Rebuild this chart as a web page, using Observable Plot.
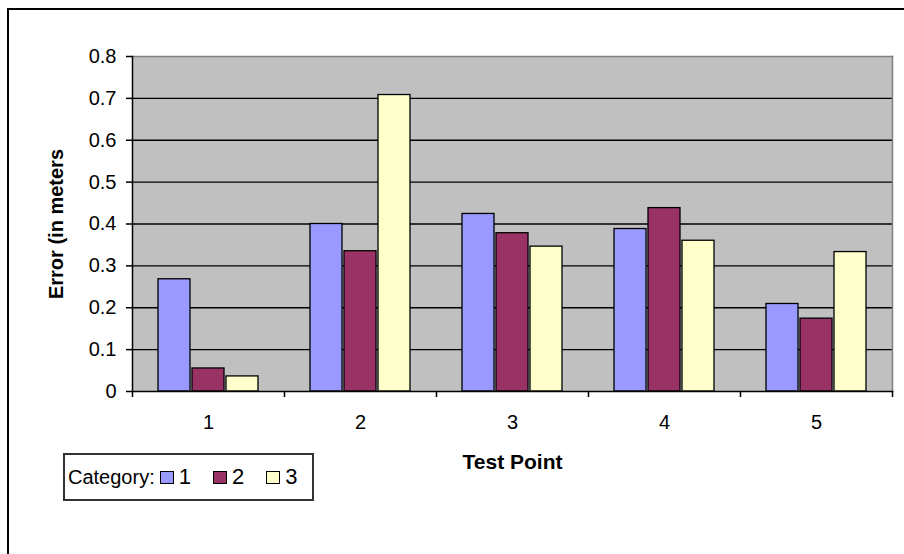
<!DOCTYPE html>
<html>
<head>
<meta charset="utf-8">
<script src="https://cdn.jsdelivr.net/npm/d3@7"></script>
<script src="https://cdn.jsdelivr.net/npm/@observablehq/plot@0.6"></script>
<style>
  html, body { margin: 0; padding: 0; background: #fff; overflow: hidden; width: 904px; height: 554px; }
  #wrap { position: relative; width: 904px; height: 554px; overflow: hidden; }
  #outer { position: absolute; left: 7px; top: 8px; width: 1000px; height: 1000px; border: 2px solid #000; box-sizing: border-box; }
  #chart { position: absolute; left: 0; top: 0; }
  #legend { position: absolute; left: 63px; top: 453px; width: 251px; height: 48px; box-sizing: border-box;
            border: 2px solid #333; background: #fff; font-family: "Liberation Sans", Arial, sans-serif; font-size: 20px;
            display: flex; align-items: center; padding-left: 3px; color: #000; }
  #legend .sw { display: inline-block; width: 12px; height: 11px; border: 1.5px solid #000; margin-left: 5px; margin-right: 5px; }
  #legend .item { display: inline-flex; align-items: center; margin-right: 17px; }
  #legend .item span:last-child { font-size: 22px; }
  #legend .item:last-child { margin-right: 0; }
  g[aria-label="y-axis label"], g[aria-label="fx-axis label"] { font-weight: bold; }
  g[aria-label="fx-axis label"] { font-size: 21px; }
</style>
</head>
<body>
<div id="wrap">
  <div id="outer"></div>
  <div id="chart"></div>
  <div id="legend"></div>
</div>
<script>
// ---- data ----
const testPoints = [1, 2, 3, 4, 5];
const categories = [1, 2, 3];
const errorCat1 = [0.268, 0.400, 0.424, 0.388, 0.209];
const errorCat2 = [0.055, 0.335, 0.378, 0.438, 0.174];
const errorCat3 = [0.036, 0.708, 0.346, 0.360, 0.333];
const yTicks = [0, 0.1, 0.2, 0.3, 0.4, 0.5, 0.6, 0.7, 0.8];
const seriesColors = ["#9999FF", "#993366", "#FFFFCC"];
const xTitle = "Test Point";
const yTitle = "Error (in meters";
const legendTitle = "Category:";

const series = [errorCat1, errorCat2, errorCat3];
const rows = testPoints.flatMap((tp, i) =>
  categories.map((c, j) => ({point: tp, category: c, error: series[j][i]})));

const W = 904, H = 554, mL = 132, mR = 12, mT = 56, mB = 163;
const facetStep = (W - mL - mR) / testPoints.length;

const chart = Plot.plot({
  width: W, height: H,
  marginLeft: mL, marginRight: mR, marginTop: mT, marginBottom: mB,
  style: {fontFamily: '"Liberation Sans", Arial, sans-serif', fontSize: "20px", background: "transparent", color: "#000", overflow: "visible"},
  fx: {domain: testPoints, padding: 0, round: true, axis: null},
  x: {domain: categories, paddingInner: 0.07, paddingOuter: 0.75, axis: null},
  y: {domain: [0, 0.8], axis: null},
  color: {domain: categories, range: seriesColors},
  marks: [
    Plot.frame({fill: "#c0c0c0", facet: "super"}),
    Plot.ruleY(yTicks.slice(1, -1), {stroke: "#000", strokeWidth: 1.3}),
    Plot.frame({anchor: "top", stroke: "#808080", strokeWidth: 1.5, facet: "super"}),
    Plot.frame({anchor: "right", stroke: "#808080", strokeWidth: 1.5, facet: "super"}),
    Plot.barY(rows, {fx: "point", x: "category", y: "error", fill: "category", stroke: "#000", strokeWidth: 1.3}),
    Plot.frame({anchor: "left", stroke: "#000", strokeWidth: 1.5, facet: "super"}),
    Plot.frame({anchor: "bottom", stroke: "#000", strokeWidth: 1.5, facet: "super"}),
    Plot.axisY({ticks: yTicks, tickSize: 6, tickPadding: 10, tickFormat: d => String(d),
                label: yTitle, labelAnchor: "center", labelOffset: 84, labelArrow: "none", strokeWidth: 1.5}),
    Plot.axisFx({anchor: "bottom", tickSize: 0, tickPadding: 23, tickFormat: d => String(d),
                 label: xTitle, labelAnchor: "center", labelOffset: 77, labelArrow: "none"}),
    Plot.axisFx({anchor: "bottom", tickSize: 6, tickFormat: () => "", label: null, dx: -facetStep / 2, strokeWidth: 1.5}),
    Plot.axisFx({anchor: "bottom", ticks: [testPoints[testPoints.length - 1]], tickSize: 6, tickFormat: () => "", label: null, dx: facetStep / 2, strokeWidth: 1.5})
  ]
});
document.getElementById("chart").appendChild(chart);

// legend
const leg = document.getElementById("legend");
const t = document.createElement("span");
t.textContent = legendTitle;
leg.appendChild(t);
categories.forEach((c, i) => {
  const item = document.createElement("span");
  item.className = "item";
  const sw = document.createElement("span");
  sw.className = "sw";
  sw.style.background = seriesColors[i];
  const lab = document.createElement("span");
  lab.textContent = String(c);
  item.appendChild(sw);
  item.appendChild(lab);
  leg.appendChild(item);
});
</script>
</body>
</html>
